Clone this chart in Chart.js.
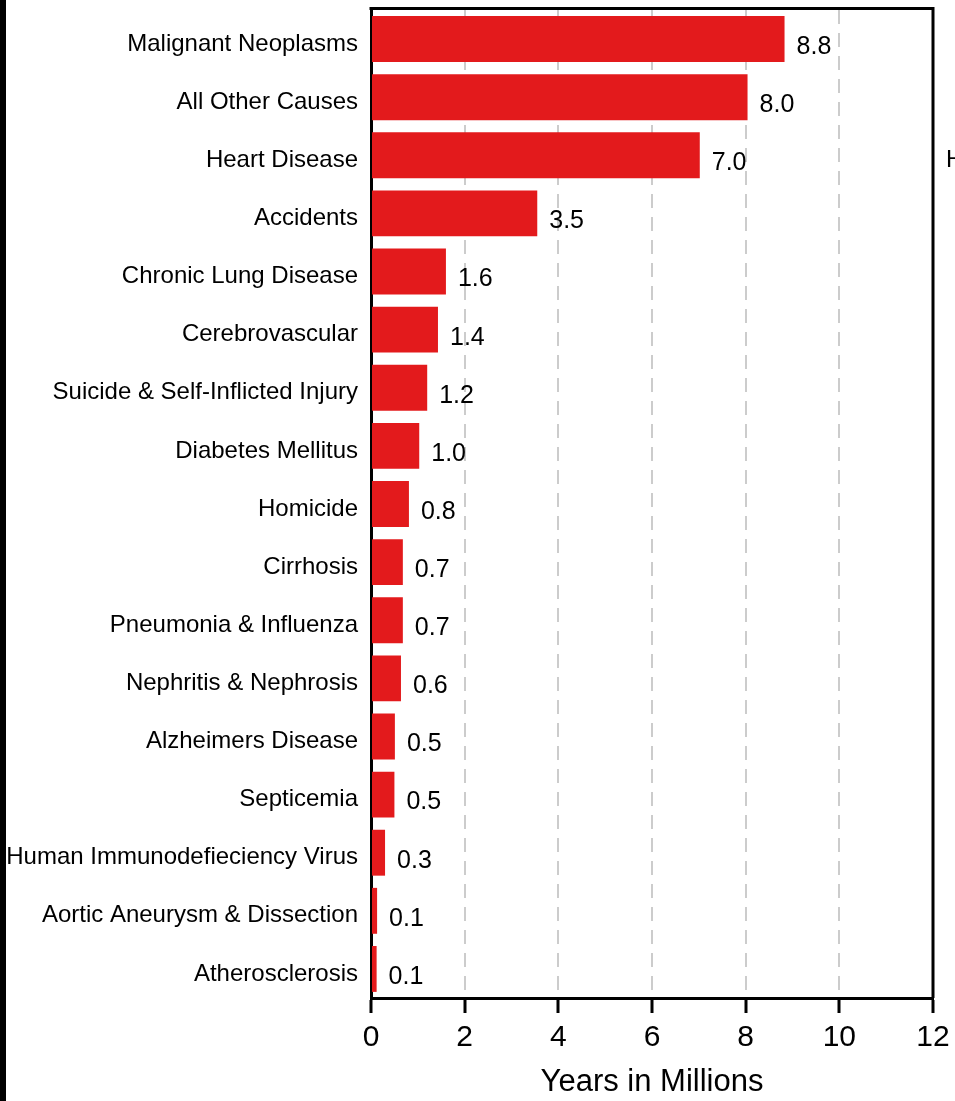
<!DOCTYPE html>
<html>
<head>
<meta charset="utf-8">
<script src="https://cdn.jsdelivr.net/npm/chart.js@4"></script>
<style>
  html, body { margin: 0; padding: 0; background: #fff; }
  #wrap { width: 955px; height: 1101px; }
</style>
</head>
<body>
<div id="wrap"><canvas id="myChart" width="955" height="1101"></canvas></div>
<script>
var causes = ['Malignant Neoplasms', 'All Other Causes', 'Heart Disease', 'Accidents', 'Chronic Lung Disease',
    'Cerebrovascular', 'Suicide & Self-Inflicted Injury', 'Diabetes Mellitus', 'Homicide', 'Cirrhosis',
    'Pneumonia & Influenza', 'Nephritis & Nephrosis', 'Alzheimers Disease', 'Septicemia',
    'Human Immunodefieciency Virus', 'Aortic Aneurysm & Dissection', 'Atherosclerosis'];
var years = [8.83, 8.04, 7.02, 3.55, 1.6, 1.43, 1.2, 1.03, 0.81, 0.68, 0.68, 0.64, 0.51, 0.5, 0.3, 0.13, 0.12];
var xTicks = [0, 2, 4, 6, 8, 10, 12];

var FONT = '"Liberation Sans", Arial, Helvetica, sans-serif';

var extras = {
    id: 'extras',
    beforeDraw: function (chart) {
        var ctx = chart.ctx;
        ctx.save();
        ctx.fillStyle = '#fff';
        ctx.fillRect(0, 0, chart.width, chart.height);
        ctx.restore();
    },
    afterDatasetsDraw: function (chart) {
        var ctx = chart.ctx;
        var meta = chart.getDatasetMeta(0);
        var yScale = chart.scales.y;
        ctx.save();
        ctx.fillStyle = '#000';
        ctx.textBaseline = 'middle';
        // value labels
        ctx.font = '25px ' + FONT;
        ctx.textAlign = 'left';
        meta.data.forEach(function (bar, i) {
            ctx.fillText(years[i].toFixed(1), bar.x + 12, bar.y + 8);
        });
        // category labels, set a little below the bar centre like the original
        ctx.font = '24px ' + FONT;
        ctx.textAlign = 'right';
        causes.forEach(function (name, i) {
            ctx.fillText(name, yScale.right - 13, yScale.getPixelForTick(i) + 5);
        });
        ctx.restore();
    },
    afterDraw: function (chart) {
        var ctx = chart.ctx;
        var a = chart.chartArea;
        ctx.save();
        ctx.strokeStyle = '#000';
        ctx.lineWidth = 3;
        ctx.beginPath();
        ctx.moveTo(a.left - 1.5, a.top - 1.5);
        ctx.lineTo(a.right, a.top - 1.5);
        ctx.lineTo(a.right, a.bottom);
        ctx.stroke();
        // black strip on the left edge
        ctx.fillStyle = '#000';
        ctx.fillRect(0, 0, 6, chart.height);
        // cut-off text at the right edge
        ctx.font = '24px ' + FONT;
        ctx.textBaseline = 'middle';
        ctx.textAlign = 'left';
        ctx.fillText('H', 946, 160);
        ctx.restore();
    }
};

var ctx = document.getElementById('myChart').getContext('2d');
var myChart = new Chart(ctx, {
    type: 'bar',
    data: {
        labels: causes,
        datasets: [{
            data: years,
            backgroundColor: '#e31a1c',
            borderWidth: 0,
            categoryPercentage: 1,
            barPercentage: 0.79
        }]
    },
    options: {
        indexAxis: 'y',
        responsive: false,
        animation: false,
        devicePixelRatio: 1,
        layout: { padding: { top: 10, right: 22, left: 0, bottom: 0 } },
        plugins: { legend: { display: false }, tooltip: { enabled: false } },
        scales: {
            x: {
                min: 0,
                max: 12,
                afterBuildTicks: function (scale) {
                    scale.ticks = xTicks.map(function (v) { return { value: v }; });
                },
                afterFit: function (scale) {
                    scale.height = 103;
                    scale.paddingLeft = 0;
                    scale.paddingRight = 0;
                },
                border: { display: true, color: '#000', width: 3, dash: [14, 9] },
                grid: {
                    color: function (c) {
                        return (c.tick && (c.tick.value === 0 || c.tick.value === 12)) ? 'rgba(0,0,0,0)' : '#cccccc';
                    },
                    lineWidth: 2,
                    tickColor: '#000',
                    tickWidth: 3,
                    tickLength: 15,
                    tickBorderDash: []
                },
                ticks: {
                    color: '#000',
                    padding: 7,
                    maxRotation: 0,
                    font: { family: FONT, size: 30 }
                },
                title: {
                    display: true,
                    text: 'Years in Millions',
                    color: '#000',
                    padding: 0,
                    font: { family: FONT, size: 31 }
                }
            },
            y: {
                afterFit: function (scale) {
                    scale.width = 371;
                    scale.paddingTop = 0;
                    scale.paddingBottom = 0;
                },
                border: { display: true, color: '#000', width: 3 },
                grid: { display: false, drawTicks: false },
                ticks: { display: false }
            }
        }
    },
    plugins: [extras]
});
</script>
</body>
</html>
